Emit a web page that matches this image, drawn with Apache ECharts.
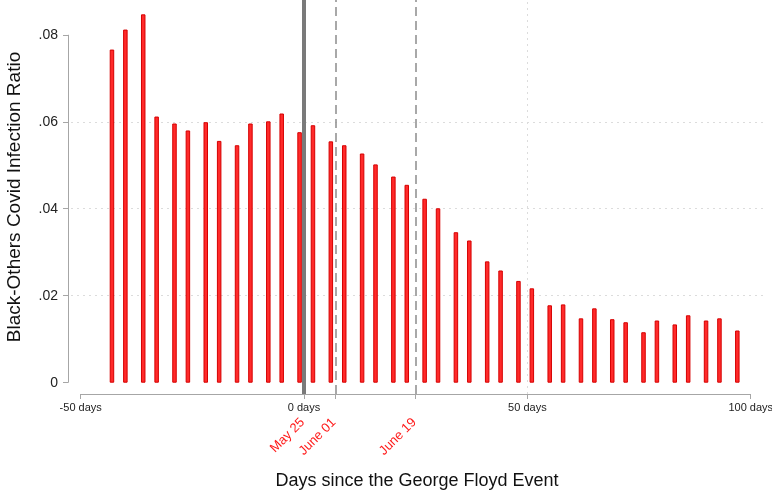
<!DOCTYPE html>
<html>
<head>
<meta charset="utf-8">
<script src="https://cdn.jsdelivr.net/npm/echarts@6/dist/echarts.min.js"></script>
<style>
html,body{margin:0;padding:0;background:#fff;}
#chart{width:772px;height:496px;}
</style>
</head>
<body>
<div id="chart"></div>
<script>
// ---- data ----
const days = [-43,-40,-36,-33,-29,-26,-22,-19,-15,-12,-8,-5,-1,2,6,9,13,16,20,23,27,30,34,37,41,44,48,51,55,58,62,65,69,72,76,79,83,86,90,93,97];
const ratios = [0.0766,0.0812,0.0847,0.0612,0.0596,0.0580,0.0599,0.0556,0.0546,0.0596,
                0.0601,0.0619,0.0576,0.0592,0.0555,0.0546,0.0527,0.0502,0.0474,0.0455,
                0.0423,0.0401,0.0346,0.0327,0.0279,0.0258,0.0234,0.0217,0.0178,0.0180,
                0.0148,0.0171,0.0146,0.0139,0.0116,0.0143,0.0134,0.0155,0.0143,0.0148,
                0.0120];
const xTickLabels = [-50, 0, 50, 100];
const xTickMarks = [-50, 0, 7, 25, 50, 100];
const yTickValues = [0, 0.02, 0.04, 0.06, 0.08];
const eventDays = [0, 7, 25];
const eventLabels = ['May 25', 'June 01', 'June 19'];
const xGridLineDays = [50];
const xTitle = 'Days since the George Floyd Event';
const yTitle = 'Black-Others Covid Infection Ratio';

// ---- layout ----
const X_MIN = -52.17, X_MAX = 102.75;
const Y_MIN = -0.0026, Y_MAX = 0.088;
const FONT = "'Liberation Sans', Arial, Helvetica, sans-serif";
const AXIS_COLOR = '#a6a6a6';

const chart = echarts.init(document.getElementById('chart'), null, {renderer: 'canvas'});

const barData = days.map((d, i) => [d, ratios[i]]);

const markLineData = [
  {xAxis: eventDays[0], lineStyle: {color: '#7a7a7a', width: 4, type: 'solid'}},
  {xAxis: eventDays[1], lineStyle: {color: '#8c8c8c', width: 1.5, type: [9, 5]}},
  {xAxis: eventDays[2], lineStyle: {color: '#8c8c8c', width: 1.5, type: [9, 5]}}
].concat(xGridLineDays.map(d => ({xAxis: d, lineStyle: {color: '#dcdcdc', width: 1, type: [2, 4]}})));

const option = {
  animation: false,
  backgroundColor: '#ffffff',
  textStyle: {fontFamily: FONT},
  grid: {left: 71, right: 9, top: 0, bottom: 102, containLabel: false, outerBoundsMode: 'none'},
  xAxis: [
    {
      type: 'value', min: X_MIN, max: X_MAX, position: 'bottom',
      axisLine: {show: false, onZero: false},
      axisTick: {show: true, customValues: xTickMarks, length: 5, lineStyle: {color: AXIS_COLOR, width: 1}},
      axisLabel: {show: true, customValues: xTickLabels, margin: 8, fontSize: 11, color: '#222', fontFamily: FONT,
                  formatter: v => v + ' days'},
      splitLine: {show: false},
      name: xTitle, nameLocation: 'middle', nameGap: 78,
      nameTextStyle: {fontSize: 18, color: '#111', fontFamily: FONT}
    },
    {
      type: 'value', min: X_MIN, max: X_MAX, position: 'bottom', gridIndex: 0,
      axisLine: {show: false, onZero: false},
      axisTick: {show: false},
      splitLine: {show: false},
      axisLabel: {show: true, customValues: eventDays, rotate: 45, margin: 25, padding: [0, 2, 0, 0],
                  fontSize: 13, color: '#ff1a1a', fontFamily: FONT,
                  formatter: v => eventLabels[eventDays.indexOf(v)] || ''}
    }
  ],
  yAxis: {
    type: 'value', min: Y_MIN, max: Y_MAX, offset: 3, position: 'left',
    axisLine: {show: false, onZero: false},
    axisTick: {show: true, customValues: yTickValues, length: 5, lineStyle: {color: AXIS_COLOR, width: 1}},
    axisLabel: {show: true, customValues: yTickValues, margin: 10, fontSize: 14, color: '#222', fontFamily: FONT,
                formatter: v => v === 0 ? '0' : v.toFixed(2).replace(/^0/, '')},
    splitLine: {show: true, showMinLine: false, showMaxLine: false, lineStyle: {color: '#dcdcdc', width: 1, type: [2, 4]}},
    name: yTitle, nameLocation: 'middle', nameGap: 44,
    nameTextStyle: {fontSize: 19, color: '#111', fontFamily: FONT}
  },
  series: [{
    type: 'bar',
    xAxisIndex: 0, yAxisIndex: 0,
    data: barData,
    barWidth: 4.5,
    itemStyle: {color: '#ff2a2a', borderColor: '#d60000', borderWidth: 1},
    markLine: {
      silent: true, symbol: 'none', animation: false,
      label: {show: false},
      data: markLineData
    },
    z: 3
  }]
};

chart.setOption(option);

// axis lines spanning only the labelled range (Stata style)
const px = v => chart.convertToPixel({xAxisIndex: 0}, v);
const py = v => chart.convertToPixel({yAxisIndex: 0}, v);
const xAxisY = Math.round(py(Y_MIN)) + 0.5;
const yAxisX = Math.round(px(X_MIN)) - 3 + 0.5;
chart.setOption({
  graphic: [
    {type: 'line', z: 10, shape: {x1: px(xTickLabels[0]), y1: xAxisY, x2: px(xTickLabels[xTickLabels.length - 1]), y2: xAxisY},
     style: {stroke: AXIS_COLOR, lineWidth: 1}},
    {type: 'line', z: 10, shape: {x1: yAxisX, y1: py(yTickValues[yTickValues.length - 1]), x2: yAxisX, y2: py(yTickValues[0])},
     style: {stroke: AXIS_COLOR, lineWidth: 1}}
  ]
});
</script>
</body>
</html>
